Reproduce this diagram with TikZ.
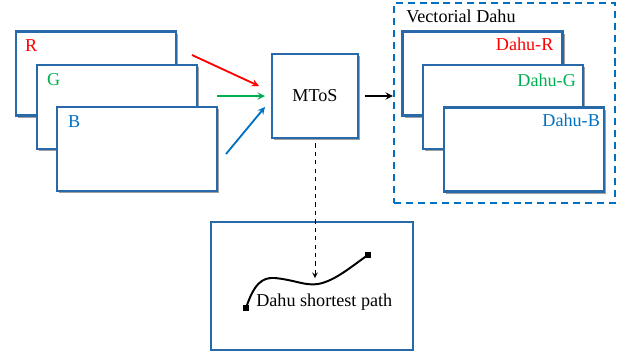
\documentclass[tikz,border=0pt]{standalone}
\usepackage{fontspec}
\setmainfont{Liberation Serif}
\usepackage{tikz}
\usetikzlibrary{arrows.meta, calc, shadows}
\usepackage{xcolor}
\definecolor{chR}{RGB}{255,0,0}
\definecolor{chG}{RGB}{0,176,80}
\definecolor{chB}{RGB}{0,112,192}
\definecolor{frameblue}{RGB}{40,105,170}

\tikzset{
  frame/.style={draw=frameblue, line width=1.6pt, fill=white, minimum width=4cm,
    minimum height=2.1cm, inner sep=0pt,
    drop shadow={shadow xshift=1.5pt, shadow yshift=-1.5pt, opacity=0.75}},
  chan/.style={font=\fontsize{12.9}{15}\selectfont, inner sep=0pt},
  sq/.style={fill=black, minimum size=0.17cm, inner sep=0pt},
}

\begin{document}
\begin{tikzpicture}[x=0.025cm, y=-0.025cm, >=stealth]
  \useasboundingbox (0,0) rectangle (634,356);

  % input channels
  \node[frame] (rin) at (96,73.5) {};
  \node[frame] (gin) at (117,107) {};
  \node[frame] (bin) at (137,149) {};
  \node[chan, text=chR, anchor=west] (rlab) at ($(rin.north west)+(10,15)$) {R};
  \node[chan, text=chG, anchor=west] (glab) at ($(gin.north west)+(11,16)$) {G};
  \node[chan, text=chB, anchor=west] (blab) at ($(bin.north west)+(12,16)$) {B};

  \node[frame, chan, minimum width=2.15cm, minimum height=2.1cm] (mtos) at (315,96) {MToS};

  \coordinate (rtail) at (192,55);
  \coordinate (rhead) at (259,86);
  \coordinate (gtail) at (217,96);
  \coordinate (ghead) at (265,96);
  \coordinate (btail) at (226,154);
  \coordinate (bhead) at (265,107);
  \draw[->, chR, line width=1.3pt] (rtail) -- (rhead);
  \draw[->, chG, line width=1.3pt] (gtail) -- (ghead);
  \draw[->, chB, line width=1.3pt] (btail) -- (bhead);

  % vectorial output
  \node[draw=chB, line width=1.6pt, dash pattern=on 5pt off 3.5pt,
    minimum width=5.525cm, minimum height=5cm, inner sep=0pt] (vec) at (504.5,103) {};
  \node[chan, anchor=west] (veclab) at (406,16) {Vectorial Dahu};
  \node[frame] (dr) at (482.5,73.5) {};
  \node[frame] (dg) at (503,107) {};
  \node[frame] (db) at (524,149.5) {};
  \node[chan, text=chR, anchor=east] (drlab) at ($(dr.north east)+(-10,14)$) {Dahu-R};
  \node[chan, text=chG, anchor=east] (dglab) at ($(dg.north east)+(-8,16)$) {Dahu-G};
  \node[chan, text=chB, anchor=east] (dblab) at ($(db.north east)+(-5,14)$) {Dahu-B};

  \draw[->, line width=1.3pt, shorten <=4pt] (mtos.east) -- (mtos.east -| vec.west);

  % shortest path
  \node[draw=frameblue, line width=1.1pt, fill=white, minimum width=5.05cm,
    minimum height=3.2cm, inner sep=0pt,
    drop shadow={shadow xshift=1pt, shadow yshift=-1pt, opacity=0.45}] (sp) at (312,286) {};
  \node[sq] (s0) at (246,308) {};
  \node[sq] (s1) at (368,255) {};
  \draw[line width=1.4pt] (s0.center) .. controls (254,284) and (262,277) .. (275,278)
    .. controls (295,280) and (305,286) .. (318,284)
    .. controls (335,281) and (352,266) .. (s1.center);
  \node[chan, anchor=west] (splab) at (256,302) {Dahu shortest path};

  \coordinate (sptip) at (316,278);
  \draw[->, dashed, line width=0.7pt, shorten <=3pt] (mtos.south) -- (mtos.south |- sptip);
\end{tikzpicture}
\end{document}
